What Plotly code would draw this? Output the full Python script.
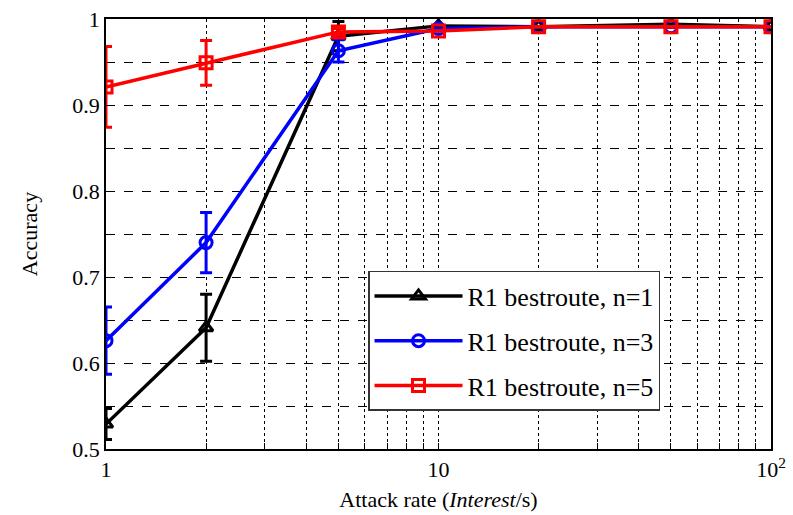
import plotly.graph_objects as go

rates = [1, 2, 5, 10, 20, 50, 100]
acc_n1 = [0.529, 0.641, 0.980, 0.992, 0.991, 0.994, 0.991]
err_n1 = [0.018, 0.039, 0.017, 0.0, 0.0, 0.0, 0.0]
acc_n3 = [0.626, 0.740, 0.963, 0.989, 0.991, 0.991, 0.991]
err_n3 = [0.039, 0.035, 0.013, 0.0, 0.0, 0.0, 0.0]
acc_n5 = [0.921, 0.949, 0.985, 0.986, 0.991, 0.991, 0.991]
err_n5 = [0.047, 0.026, 0.004, 0.0, 0.0, 0.0, 0.0]

series = [
    ("R1 bestroute, n=1", acc_n1, err_n1, "black", "triangle-up-open"),
    ("R1 bestroute, n=3", acc_n3, err_n3, "blue", "circle-open"),
    ("R1 bestroute, n=5", acc_n5, err_n5, "red", "square-open"),
]

x_grid = [1, 2, 3, 4, 5, 6, 7, 8, 9, 10, 20, 30, 40, 50, 60, 70, 80, 90, 100]
x_text = ["1" if v == 1 else "10" if v == 10 else "10<sup>2</sup>" if v == 100 else "" for v in x_grid]
y_ticks = [0.5, 0.6, 0.7, 0.8, 0.9, 1.0]
y_text = ["0.5", "0.6", "0.7", "0.8", "0.9", "1"]

fig = go.Figure()
for i, (name, y, e, c, sym) in enumerate(series):
    fig.add_trace(go.Scatter(
        x=rates, y=y, name=name, mode="lines+markers", legendgroup=f"g{i}",
        line=dict(color=c, width=3.5),
        marker=dict(symbol=sym, size=12, color=c, line=dict(color=c, width=3)),
        error_y=dict(type="data", array=e, visible=True, color=c, thickness=3, width=6),
    ))

font = "Liberation Serif"
fig.update_layout(
    width=793, height=515,
    margin=dict(l=106, r=22, t=19, b=66, autoexpand=False),
    paper_bgcolor="white", plot_bgcolor="white",
    font=dict(family=font, size=22, color="black"),
    showlegend=True,
    legend=dict(
        x=0.394, y=0.414, xanchor="left", yanchor="top",
        bgcolor="white", bordercolor="#333", borderwidth=1.5,
        font=dict(family=font, size=26), itemwidth=88,
        tracegroupgap=8,
    ),
    xaxis=dict(
        type="log", range=[0, 2], automargin=False,
        tickvals=x_grid, ticktext=x_text,
        showgrid=True, gridcolor="black", griddash="dot", gridwidth=1,
        showline=True, linecolor="black", linewidth=1.5, mirror=True,
        ticks="inside", ticklen=6, tickcolor="black",
        tickfont=dict(size=22),
        title=dict(text="Attack rate (<i>Interest</i>/s)", font=dict(size=22), standoff=10),
        zeroline=False,
    ),
    yaxis=dict(
        range=[0.5, 1.0], automargin=False,
        tickvals=y_ticks, ticktext=y_text,
        showgrid=True, gridcolor="black", griddash="dash", gridwidth=1,
        minor=dict(dtick=0.05, tick0=0.5, showgrid=True, gridcolor="black", griddash="dash", gridwidth=1),
        showline=True, linecolor="black", linewidth=1.5, mirror=True,
        ticks="inside", ticklen=6, tickcolor="black",
        tickfont=dict(size=22),
        title=dict(text="Accuracy", font=dict(size=22), standoff=29),
        zeroline=False,
    ),
)

fig.write_html("out.html", config={"displayModeBar": False},
               post_script="document.body.style.margin='0';")
